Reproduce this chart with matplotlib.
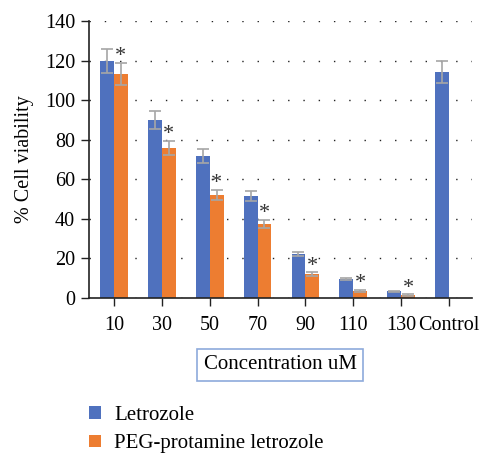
import numpy as np
import matplotlib.pyplot as plt
from matplotlib.patches import Patch

plt.rcParams['font.family'] = ['Liberation Serif', 'DejaVu Serif']

# Дані
categories = ['10', '30', '50', '70', '90', '110', '130', 'Control']
letrozole = [119.7, 89.9, 71.7, 51.5, 22.2, 9.6, 3.5, 114.3]
letrozole_err = [6.0, 4.4, 3.4, 2.6, 1.2, 0.5, 0.3, 5.7]
peg = [113.1, 75.8, 52.0, 37.4, 12.1, 3.5, 1.5, 0]
peg_err = [5.7, 3.7, 2.6, 2.0, 0.8, 0.5, 0.3, 0]
signif = [True, True, True, True, True, True, True, False]

blue = '#4F71BE'
orange = '#ED7D31'
err_col = '#A6A6A6'

fig = plt.figure(figsize=(4.87, 4.55), dpi=100)
ax = fig.add_axes([0.183, 0.345, 0.786, 0.609])

x = np.arange(len(categories))
w = 0.29
ax.bar(x - w / 2, letrozole, w, color=blue, zorder=2)
ax.errorbar(x - w / 2, letrozole, yerr=letrozole_err, fmt='none', ecolor=err_col,
            elinewidth=1.2, capsize=4, capthick=1.2, zorder=3)
ax.bar(x[:-1] + w / 2, peg[:-1], w, color=orange, zorder=2)
ax.errorbar(x[:-1] + w / 2, peg[:-1], yerr=peg_err[:-1], fmt='none', ecolor=err_col,
            elinewidth=1.2, capsize=4, capthick=1.2, zorder=3)

# Зірочки значущості
for i in range(len(categories)):
    if signif[i]:
        ax.text(x[i] + w / 2, peg[i] + peg_err[i] + 3.2, '*', ha='center', va='center',
                fontsize=16, color='#333333', zorder=4)

ax.set_xlim(-0.52, 7.48)
ax.set_ylim(0, 140)
ax.set_yticks(range(0, 141, 20))
ax.set_xticks(x)
ax.set_xticklabels(categories)
ax.tick_params(axis='both', labelsize=14.5, length=6, width=1, color='#222222', direction='out')
ax.tick_params(axis='x', pad=7)
ax.tick_params(axis='y', pad=4)

ax.yaxis.grid(True, linestyle=(0, (1, 10)), color='#222222', linewidth=1, zorder=0)
ax.set_axisbelow(True)
for s in ['top', 'right']:
    ax.spines[s].set_visible(False)
for s in ['left', 'bottom']:
    ax.spines[s].set_color('#222222')
    ax.spines[s].set_linewidth(1.2)

ax.set_ylabel('% Cell viability', fontsize=14.5, labelpad=8)

fig.text(0.575, 0.198, 'Concentration uM', ha='center', va='center', fontsize=15,
         bbox=dict(boxstyle='square,pad=0.3', facecolor='white', edgecolor='#8EAADB', linewidth=1.2))

handles = [Patch(facecolor=blue, label='Letrozole'),
           Patch(facecolor=orange, label='PEG-protamine letrozole')]
fig.legend(handles=handles, loc='upper left', bbox_to_anchor=(0.183, 0.108), frameon=False,
           fontsize=15, handlelength=0.55, handleheight=0.55, handletextpad=0.65,
           labelspacing=0.45, borderpad=0, borderaxespad=0)

fig.savefig('out.png', dpi=100)
